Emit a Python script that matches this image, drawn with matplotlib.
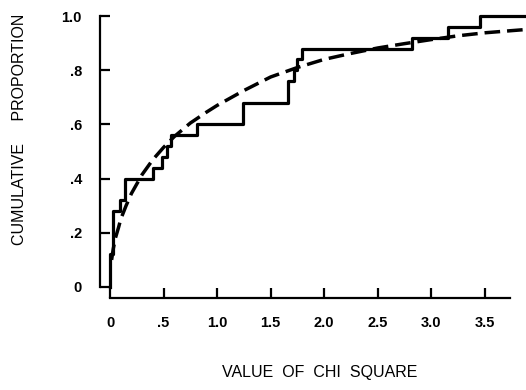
import matplotlib
matplotlib.use("Agg")
import matplotlib.pyplot as plt

# observed chi square values where the cumulative proportion steps up
step_x = [0.0, 0.0, 0.03, 0.09, 0.14, 0.40, 0.485, 0.53, 0.57, 0.81, 1.24, 1.66, 1.72, 1.745, 1.79, 2.82, 3.16, 3.45, 3.88]
step_y = [0.0, 0.12, 0.28, 0.32, 0.40, 0.44, 0.48, 0.52, 0.56, 0.60, 0.68, 0.76, 0.80, 0.84, 0.88, 0.92, 0.96, 1.00, 1.00]

# expected curve
curve_x = [0.015, 0.03, 0.05, 0.08, 0.1, 0.15, 0.2, 0.3, 0.4, 0.5, 0.6, 0.75, 0.9, 1.0, 1.25, 1.5, 1.75, 2.0, 2.25, 2.5, 2.75, 3.0, 3.25, 3.5, 3.75, 3.88]
curve_y = [0.10, 0.14, 0.18, 0.22, 0.25, 0.30, 0.345, 0.415, 0.47, 0.515, 0.555, 0.605, 0.645, 0.67, 0.725, 0.775, 0.81, 0.84, 0.862, 0.882, 0.898, 0.913, 0.927, 0.938, 0.946, 0.95]

yticks = [0, 0.2, 0.4, 0.6, 0.8, 1.0]
ytick_labels = ["0", ".2", ".4", ".6", ".8", "1.0"]
xticks = [0, 0.5, 1.0, 1.5, 2.0, 2.5, 3.0, 3.5]
xtick_labels = ["0", ".5", "1.0", "1.5", "2.0", "2.5", "3.0", "3.5"]

plt.rcParams["font.family"] = ["Liberation Sans", "DejaVu Sans"]

fig = plt.figure(figsize=(5.26, 3.9), dpi=100)
ax = fig.add_axes([100 / 526, 92 / 390, 426 / 526, 282 / 390])

ax.step(step_x, step_y, where="post", color="black", lw=2.3, clip_on=False)
ax.plot(curve_x, curve_y, color="black", lw=2.5, dashes=(4.5, 2.0), clip_on=False)

ax.set_xlim(-0.0934, 3.884)
ax.set_ylim(-0.0406, 1.0)

for s in ["top", "right"]:
    ax.spines[s].set_visible(False)
ax.spines["left"].set_bounds(0, 1.0)
ax.spines["bottom"].set_bounds(0, 3.735)
ax.spines["left"].set_linewidth(1.6)
ax.spines["bottom"].set_linewidth(1.6)

ax.set_xticks(xticks)
ax.set_xticklabels(xtick_labels)
ax.set_yticks(yticks)
ax.set_yticklabels(ytick_labels)
ax.tick_params(axis="both", direction="in", length=7, width=1.6)
ax.tick_params(axis="x", pad=13)
ax.tick_params(axis="y", pad=13)
for lab in ax.get_xticklabels() + ax.get_yticklabels():
    lab.set_fontweight("bold")
    lab.set_fontsize(10.5)

fig.text(20 / 526, 1 - 129 / 390, "CUMULATIVE     PROPORTION", rotation=90,
         ha="center", va="center", fontsize=11.5)
fig.text(320 / 526, 1 - 373 / 390, "VALUE  OF  CHI  SQUARE",
         ha="center", va="center", fontsize=11.5)

fig.savefig("out.png", dpi=100)
